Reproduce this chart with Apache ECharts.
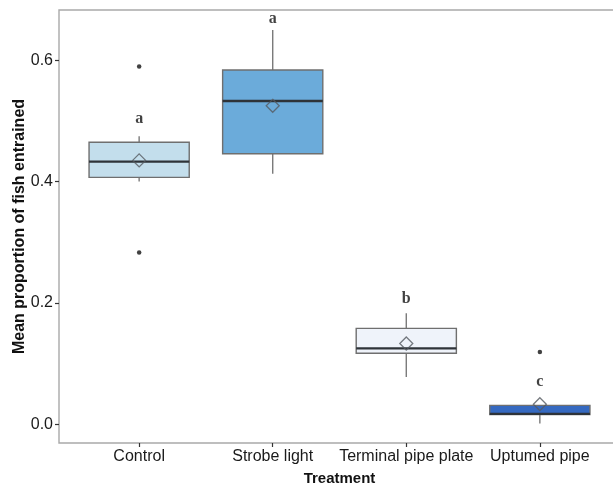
<!DOCTYPE html>
<html>
<head>
<meta charset="utf-8">
<script src="https://cdn.jsdelivr.net/npm/echarts@6/dist/echarts.min.js"></script>
<style>
  html, body { margin: 0; padding: 0; background: #fff; }
  #chart { width: 613px; height: 487px; }
</style>
</head>
<body>
<div id="chart"></div>
<script>
// Treatment groups and box statistics
const categories = ['Control', 'Strobe light', 'Terminal pipe plate', 'Uptumed pipe'];
const whiskerLow = [0.400, 0.413, 0.078, 0.001];
const lowerQuartile = [0.407, 0.446, 0.117, 0.016];
const medians = [0.433, 0.533, 0.125, 0.017];
const upperQuartile = [0.465, 0.584, 0.158, 0.031];
const whiskerHigh = [0.475, 0.650, 0.183, 0.031];
const means = [0.435, 0.525, 0.133, 0.033];
// outliers as [group index (1-based), value]
const outliers = [[1, 0.590], [1, 0.283], [4, 0.119]];
// significance letters and their heights
const letters = ['a', 'a', 'b', 'c'];
const letterHeights = [0.503, 0.669, 0.207, 0.069];
const yTicks = [0, 0.2, 0.4, 0.6];

const fills = ['#c3deec', '#6babda', '#eff3fa', '#3569c0'];
const BOX_HALF = 0.375;

const boxData = categories.map((c, i) => [
  i + 1, whiskerLow[i], lowerQuartile[i], medians[i], upperQuartile[i], whiskerHigh[i]
]);

function renderBox(params, api) {
  const x = api.value(0);
  const lo = api.coord([x, api.value(1)]);
  const q1 = api.coord([x - BOX_HALF, api.value(2)]);
  const q1r = api.coord([x + BOX_HALF, api.value(2)]);
  const med = api.value(3);
  const q3 = api.coord([x - BOX_HALF, api.value(4)]);
  const hi = api.coord([x, api.value(5)]);
  const mid = api.coord([x, api.value(2)]);
  const midTop = api.coord([x, api.value(4)]);
  const medL = api.coord([x - BOX_HALF, med]);
  const medR = api.coord([x + BOX_HALF, med]);
  const whiskerStyle = { stroke: '#7a7a7a', lineWidth: 1.4 };
  return {
    type: 'group',
    children: [
      { type: 'line', shape: { x1: lo[0], y1: lo[1], x2: mid[0], y2: mid[1] }, style: whiskerStyle },
      { type: 'line', shape: { x1: midTop[0], y1: midTop[1], x2: hi[0], y2: hi[1] }, style: whiskerStyle },
      {
        type: 'rect',
        shape: { x: q3[0], y: q3[1], width: q1r[0] - q3[0], height: q1[1] - q3[1] },
        style: { fill: fills[params.dataIndex], stroke: '#6f6f6f', lineWidth: 1.4 }
      },
      { type: 'line', shape: { x1: medL[0], y1: medL[1], x2: medR[0], y2: medR[1] }, style: { stroke: '#2e3338', lineWidth: 2.4 } }
    ]
  };
}

const chart = echarts.init(document.getElementById('chart'));
chart.setOption({
  animation: false,
  textStyle: { fontFamily: 'Liberation Sans' },
  grid: {
    left: 59, top: 10, width: 561, height: 433,
    outerBoundsMode: 'none', containLabel: false,
    show: true, borderColor: '#a9a9a9', borderWidth: 1.4, backgroundColor: '#fff'
  },
  xAxis: {
    type: 'value', min: 0.4, max: 4.6,
    splitLine: { show: false },
    axisLine: { show: false, onZero: false },
    axisTick: { show: true, customValues: [1, 2, 3, 4], length: 4, lineStyle: { color: '#333', width: 1.2 } },
    axisLabel: {
      customValues: [1, 2, 3, 4], margin: 6,
      formatter: v => categories[Math.round(v) - 1],
      color: '#1a1a1a', fontSize: 16, fontFamily: 'Liberation Sans'
    },
    name: 'Treatment', nameLocation: 'middle', nameGap: 28, nameMoveOverlap: false,
    nameTextStyle: { fontSize: 15, fontWeight: 'bold', color: '#111', fontFamily: 'Liberation Sans' }
  },
  yAxis: {
    type: 'value', min: -0.031, max: 0.683,
    splitLine: { show: false },
    axisLine: { show: false, onZero: false },
    axisTick: { show: true, customValues: yTicks, length: 4, lineStyle: { color: '#333', width: 1.2 } },
    axisLabel: {
      customValues: yTicks, margin: 6,
      formatter: v => v.toFixed(1),
      color: '#1a1a1a', fontSize: 16, fontFamily: 'Liberation Sans'
    },
    name: 'Mean proportion of fish entrained', nameLocation: 'middle', nameGap: 31, nameMoveOverlap: false,
    nameTextStyle: { fontSize: 16, fontWeight: 'bold', color: '#111', fontFamily: 'Liberation Sans' }
  },
  series: [
    {
      type: 'custom',
      renderItem: renderBox,
      data: boxData,
      encode: { x: 0, y: [1, 2, 3, 4, 5] },
      z: 2
    },
    {
      type: 'scatter',
      data: means.map((m, i) => [i + 1, m]),
      symbol: 'diamond',
      symbolSize: [13, 13],
      itemStyle: { color: 'rgba(0,0,0,0)', borderColor: '#555a60', borderWidth: 1.3 },
      z: 3
    },
    {
      type: 'scatter',
      data: outliers,
      symbolSize: 4.5,
      itemStyle: { color: '#111' },
      z: 3
    },
    {
      type: 'scatter',
      data: letterHeights.map((h, i) => [i + 1, h]),
      symbolSize: 0,
      label: {
        show: true, position: 'inside',
        formatter: p => letters[p.dataIndex],
        fontFamily: 'Liberation Serif', fontWeight: 'bold', fontSize: 16, color: '#111'
      },
      z: 4
    }
  ]
});
</script>
</body>
</html>
